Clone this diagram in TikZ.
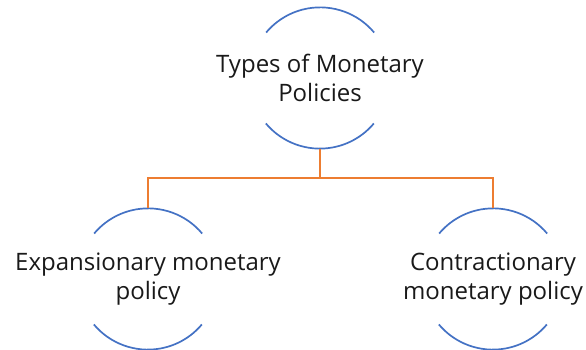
\documentclass[tikz,border=0pt]{standalone}
\usepackage{fontspec}
\setmainfont{Open Sans}
\usepackage{tikz}
\usetikzlibrary{positioning}

\begin{document}
\begin{tikzpicture}[
    x=1pt, y=1pt,
    ring/.style={circle, inner sep=0pt, minimum size=141pt},
    lbl/.style={align=center, inner sep=0pt, font=\fontsize{24}{29}\selectfont, text=black!90},
    rim/.style={draw={rgb,255:red,68;green,114;blue,196}, line width=1.7pt},
    link/.style={draw={rgb,255:red,237;green,125;blue,49}, line width=1.7pt}
]
    \useasboundingbox (0,0) rectangle (586,350);

    \node [ring, label={[lbl]center:Types of Monetary\\Policies}] (top) at (320,272) {};
    \node [ring, label={[lbl]center:Expansionary monetary\\policy}] (left) at (148,71) {};
    \node [ring, label={[lbl]center:Contractionary\\monetary policy}] (right) at (493,71) {};

    % upper and lower arcs of each ring
    \foreach \n in {top,left,right} {
        \draw [rim] (\n.40) arc [start angle=40, end angle=140, radius=70.5];
        \draw [rim] (\n.220) arc [start angle=220, end angle=320, radius=70.5];
    }

    \draw [link] (top.south) -- ++(0,-29) -| (left.north);
    \draw [link] (top.south) -- ++(0,-29) -| (right.north);
\end{tikzpicture}
\end{document}
